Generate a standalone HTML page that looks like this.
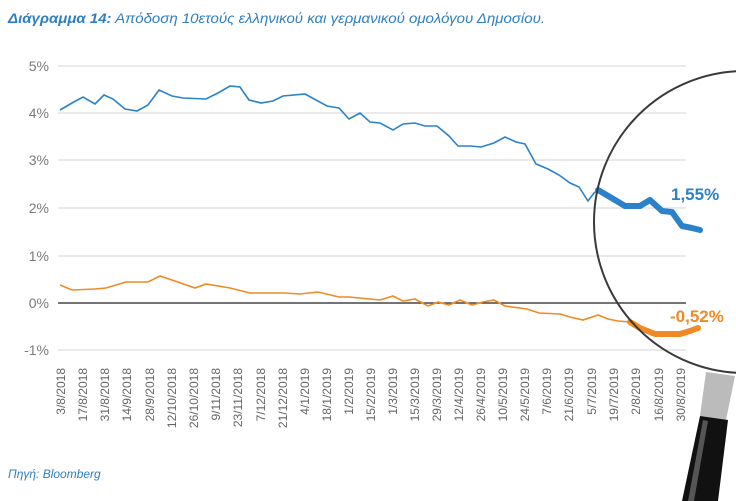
<!DOCTYPE html>
<html><head><meta charset="utf-8"><style>
body{margin:0;background:#fff;width:736px;height:501px;overflow:hidden}
svg{display:block;font-family:"Liberation Sans","DejaVu Sans",sans-serif}
</style></head><body>
<svg width="736" height="501" viewBox="0 0 736 501">
<text x="8" y="23" font-size="14" font-style="italic" fill="#2f7fc1" textLength="537" lengthAdjust="spacingAndGlyphs"><tspan font-weight="bold">Διάγραμμα 14:</tspan> Απόδοση 10ετούς  ελληνικού και γερμανικού ομολόγου Δημοσίου.</text>
<g stroke="#e3e3e3" stroke-width="1.5">
<line x1="58" x2="686" y1="66" y2="66"/><line x1="58" x2="686" y1="113" y2="113"/>
<line x1="58" x2="686" y1="160" y2="160"/><line x1="58" x2="686" y1="208" y2="208"/>
<line x1="58" x2="686" y1="256" y2="256"/><line x1="58" x2="686" y1="350" y2="350"/>
</g>
<line x1="58" x2="686" y1="303" y2="303" stroke="#222" stroke-width="1.3"/>
<g font-size="14" fill="#7a7a7a" text-anchor="end">
<text x="49" y="71">5%</text><text x="49" y="118">4%</text><text x="49" y="165">3%</text>
<text x="49" y="213">2%</text><text x="49" y="261">1%</text><text x="49" y="308">0%</text><text x="49" y="355">-1%</text>
</g>
<g font-size="12" fill="#666" text-anchor="end">
<text transform="translate(65,368) rotate(-90)">3/8/2018</text>
<text transform="translate(87,368) rotate(-90)">17/8/2018</text>
<text transform="translate(109,368) rotate(-90)">31/8/2018</text>
<text transform="translate(131,368) rotate(-90)">14/9/2018</text>
<text transform="translate(154,368) rotate(-90)">28/9/2018</text>
<text transform="translate(176,368) rotate(-90)">12/10/2018</text>
<text transform="translate(198,368) rotate(-90)">26/10/2018</text>
<text transform="translate(220,368) rotate(-90)">9/11/2018</text>
<text transform="translate(242,368) rotate(-90)">23/11/2018</text>
<text transform="translate(265,368) rotate(-90)">7/12/2018</text>
<text transform="translate(287,368) rotate(-90)">21/12/2018</text>
<text transform="translate(309,368) rotate(-90)">4/1/2019</text>
<text transform="translate(331,368) rotate(-90)">18/1/2019</text>
<text transform="translate(353,368) rotate(-90)">1/2/2019</text>
<text transform="translate(375,368) rotate(-90)">15/2/2019</text>
<text transform="translate(397,368) rotate(-90)">1/3/2019</text>
<text transform="translate(419,368) rotate(-90)">15/3/2019</text>
<text transform="translate(441,368) rotate(-90)">29/3/2019</text>
<text transform="translate(463,368) rotate(-90)">12/4/2019</text>
<text transform="translate(485,368) rotate(-90)">26/4/2019</text>
<text transform="translate(507,368) rotate(-90)">10/5/2019</text>
<text transform="translate(529,368) rotate(-90)">24/5/2019</text>
<text transform="translate(551,368) rotate(-90)">7/6/2019</text>
<text transform="translate(573,368) rotate(-90)">21/6/2019</text>
<text transform="translate(596,368) rotate(-90)">5/7/2019</text>
<text transform="translate(618,368) rotate(-90)">19/7/2019</text>
<text transform="translate(640,368) rotate(-90)">2/8/2019</text>
<text transform="translate(663,368) rotate(-90)">16/8/2019</text>
<text transform="translate(685,368) rotate(-90)">30/8/2019</text>
</g>
<polyline fill="none" stroke="#2b82c9" stroke-width="1.6" points="60,110 72,103 83,97 95,104 104,95 113,99 125,109 137,111 148,105 159,90 172,96 183,98 206,99 218,93 230,86 240,87 249,100 261,103 273,101 283,96 305,94 327,106 339,108 349,119 360,113 370,122 380,123 393,130 403,124 415,123 425,126 437,126 449,136 458,146 470,146 481,147 494,143 505,137 516,142 525,144 536,164 548,169 559,175 570,183 579,187 588,201 594,193 598,190"/>
<polyline fill="none" stroke="#2b82c9" stroke-width="6" stroke-linejoin="round" stroke-linecap="round" points="598,190 610,197 625,206 640,206 650,200 662,211 672,212 682,226 692,228 700,230"/>
<polyline fill="none" stroke="#ef8a24" stroke-width="1.6" points="60,285 72,290 95,289 106,288 126,282 148,282 160,276 172,280 195,288 206,284 230,288 250,293 259,293 285,293 300,294 318,292 339,297 349,297 370,299 380,300 393,296 403,301 415,299 428,306 438,302 449,305 460,300 472,305 483,302 494,300 505,306 527,309 539,313 560,314 570,317 583,320 598,315 608,319 618,321 630,322"/>
<polyline fill="none" stroke="#ef8a24" stroke-width="6" stroke-linejoin="round" stroke-linecap="round" points="630,322 640,328 655,334 680,334 690,331 698,328"/>
<text x="671" y="200" font-size="17" font-weight="bold" fill="#2b82c9">1,55%</text>
<text x="670" y="322" font-size="17" font-weight="bold" fill="#ef8a24">-0,52%</text>
<circle cx="745" cy="222" r="151" fill="none" stroke="#3a3a3a" stroke-width="2"/>
<path d="M706 372 L735 376 L726 420 L700 416 Z" fill="#bbb"/>
<path d="M700 416 L728 420 L718 501 L682 501 Z" fill="#111"/>
<path d="M703 420 L708 421 L694 501 L688 501 Z" fill="#555"/>
<text x="8" y="478" font-size="12" font-style="italic" fill="#2f7fc1">Πηγή: Bloomberg</text>
</svg>
</body></html>
